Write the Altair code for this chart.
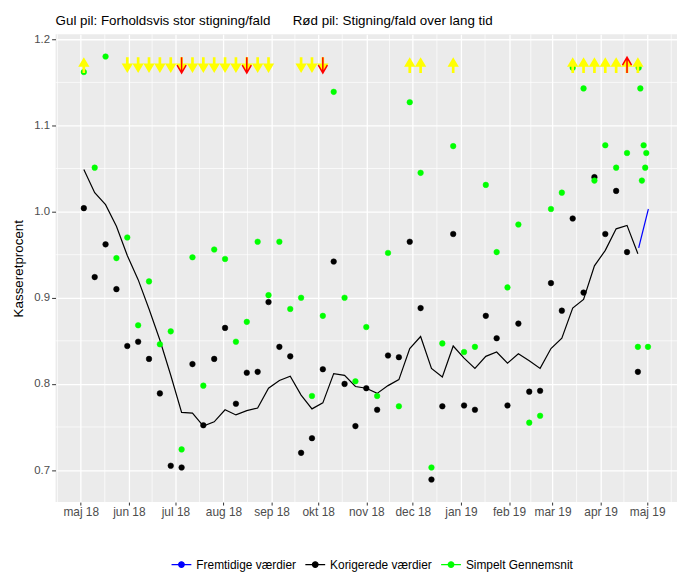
import altair as alt
import pandas as pd

# ---------------- data ----------------
uge_start = "2018-05-03"
antal_uger = 52

korrigeret = [1.004, 0.924, 0.962, 0.910, 0.844, 0.849, 0.829, 0.789, 0.705, 0.703,
              0.823, 0.752, 0.829, 0.865, 0.777, 0.813, 0.814, 0.895, 0.843, 0.832,
              0.720, 0.737, 0.817, 0.942, 0.800, 0.751, 0.795, 0.770, 0.833, 0.831,
              0.965, 0.888, 0.689, 0.774, 0.974, 0.775, 0.770, 0.879, 0.853, 0.775,
              0.870, 0.791, 0.792, 0.917, 0.885, 0.992, 0.906, 1.040, 0.974, 1.024,
              0.953, 0.814]
gennemsnit = [1.162, 1.051, 1.180, 0.946, 0.970, 0.868, 0.919, 0.846, 0.861, 0.724,
              0.947, 0.798, 0.956, 0.945, 0.849, 0.872, 0.965, 0.903, 0.965, 0.887,
              0.900, 0.786, 0.879, 1.139, 0.900, 0.803, 0.866, 0.786, 0.952, 0.774,
              1.127, 1.045, 0.703, 0.847, 1.076, 0.837, 0.843, 1.031, 0.953, 0.912,
              0.985, 0.755, 0.763, 1.003, 1.022, 1.167, 1.143, 1.036, 1.077, 1.051,
              1.068, 0.843]
linje = [1.049, 1.022, 1.008, 0.983, 0.949, 0.921, 0.887, 0.851, 0.810, 0.767,
         0.766, 0.751, 0.756, 0.770, 0.764, 0.769, 0.772, 0.795, 0.804, 0.809,
         0.787, 0.771, 0.778, 0.812, 0.810, 0.797, 0.795, 0.789, 0.798, 0.805,
         0.841, 0.855, 0.818, 0.808, 0.844, 0.830, 0.818, 0.832, 0.837, 0.824,
         0.835, 0.827, 0.818, 0.841, 0.853, 0.888, 0.898, 0.937, 0.955, 0.980,
         0.984, 0.951]

ekstra_dato = ["2019-04-25T12:00:00Z", "2019-04-26T14:00:00Z", "2019-04-27T14:00:00Z",
               "2019-04-28T17:00:00Z", "2019-04-29T17:00:00Z", "2019-04-30T10:00:00Z",
               "2019-05-01T12:00:00Z"]
ekstra_gns = [1.167, 1.143, 1.036, 1.077, 1.051, 1.068, 0.843]

frem_dato = ["2019-04-25T12:00:00Z", "2019-05-01T18:00:00Z"]
frem_vaerdi = [0.958, 1.003]

gul_ned = [4, 5, 6, 7, 8, 9, 10, 11, 12, 13, 14, 15, 16, 17, 20, 21, 22]
gul_op = [0, 30, 31, 34, 45, 46, 47, 48, 49, 50, 51]
roed_ned = [9, 15, 22]
roed_op = [50]
pil_niveau = 1.17

serier = ["Fremtidige værdier", "Korigerede værdier", "Simpelt Gennemsnit"]
farver = ["#0000FF", "#000000", "#00FF00"]

y_ticks = [0.7, 0.8, 0.9, 1.0, 1.1, 1.2]
y_minor = [0.75, 0.85, 0.95, 1.05, 1.15]
maaneder = ['jan', 'feb', 'mar', 'apr', 'maj', 'jun', 'jul', 'aug', 'sep', 'okt', 'nov', 'dec']

# ---------------- frames ----------------
datoer = pd.date_range(uge_start, periods=antal_uger, freq="7D")
dstr = [d.strftime("%Y-%m-%dT%H:%M:%SZ") for d in datoer]

punkter = pd.DataFrame({
    "dato": dstr + dstr + ekstra_dato,
    "vaerdi": korrigeret + gennemsnit + ekstra_gns,
    "serie": [serier[1]] * antal_uger + [serier[2]] * antal_uger + [serier[2]] * len(ekstra_dato),
})
linjer = pd.DataFrame({
    "dato": dstr + frem_dato,
    "vaerdi": linje + frem_vaerdi,
    "serie": [serier[1]] * antal_uger + [serier[0]] * len(frem_dato),
})

def pile(idx):
    return pd.DataFrame({"dato": [dstr[i] for i in idx], "vaerdi": [pil_niveau] * len(idx)})

month_starts = pd.date_range("2018-04-01", "2019-06-01", freq="MS")
minor_x = [(a + (b - a) / 2).strftime("%Y-%m-%dT%H:%M:%SZ")
           for a, b in zip(month_starts[:-1], month_starts[1:])]
tick_months = pd.date_range("2018-05-01", "2019-05-01", freq="MS")
x_values = [alt.DateTime(year=d.year, month=d.month, date=1, utc=True) for d in tick_months]

# ---------------- scales / axes ----------------
FONT = "Liberation Sans"
xscale = alt.Scale(type="utc", nice=False,
                   domain=[alt.DateTime(year=2018, month=4, date=14, hours=19, utc=True),
                           alt.DateTime(year=2019, month=5, date=20, hours=5, utc=True)])
yscale = alt.Scale(domain=[0.6628, 1.2058], nice=False, zero=False)
cscale = alt.Scale(domain=serier, range=farver)

label_expr = ("['" + "','".join(maaneder) + "'][utcmonth(datum.value)] + ' ' + utcFormat(datum.value, '%y')")
X_AXIS = alt.Axis(values=x_values, labelExpr=label_expr, title=None, grid=True,
                  gridColor="white", gridWidth=1.3, domain=False, tickColor="#333333",
                  tickSize=3, labelColor="#4D4D4D", labelFontSize=12, labelFont=FONT,
                  labelPadding=2)
Y_AXIS = alt.Axis(values=y_ticks, format=".1f", title="Kasseretprocent", grid=True,
                  gridColor="white", gridWidth=1.3, domain=False, tickColor="#333333",
                  tickSize=4, labelColor="#4D4D4D", labelFontSize=11.5, labelFont=FONT,
                  labelPadding=2, titleFont=FONT, titleFontSize=13.5, titleFontWeight="normal",
                  titleColor="black", titlePadding=8)

X = lambda f="dato": alt.X(f + ":T", scale=xscale, axis=X_AXIS)
Y = lambda f="vaerdi": alt.Y(f + ":Q", scale=yscale, axis=Y_AXIS)

legende = alt.Legend(
    title=None, orient="none", direction="horizontal", legendX=116, legendY=524,
    symbolType="M-1,0 L1,0 M-0.28,0 A0.28,0.28 0 1,0 0.28,0 A0.28,0.28 0 1,0 -0.28,0 Z",
    symbolSize=400, symbolStrokeWidth=1.3, labelFont=FONT, labelFontSize=12,
    labelColor="black", columnPadding=6, labelOffset=4, symbolOpacity=1)

# ---------------- layers ----------------
grid_x = alt.Chart(pd.DataFrame({"dato": minor_x})).mark_rule(
    color="white", strokeWidth=0.7).encode(x=X())
grid_y = alt.Chart(pd.DataFrame({"vaerdi": y_minor})).mark_rule(
    color="white", strokeWidth=0.7).encode(y=Y())

linje_lag = alt.Chart(linjer).mark_line(strokeWidth=1.2, opacity=1).encode(
    x=X(), y=Y(),
    stroke=alt.Stroke("serie:N", scale=cscale, legend=legende),
    detail="serie:N")

punkt_lag = alt.Chart(punkter).mark_point(filled=True, size=32, opacity=1, strokeWidth=0.5).encode(
    x=X(), y=Y(),
    fill=alt.Fill("serie:N", scale=cscale, legend=legende),
    stroke=alt.Stroke("serie:N", scale=cscale, legend=legende),
    order=alt.Order("serie:N"))

NED_GUL = "M-0.17,-1 L0.17,-1 L0.17,-0.22 L0.72,-0.22 L0,1 L-0.72,-0.22 L-0.17,-0.22 Z"
OP_GUL = "M-0.17,1 L0.17,1 L0.17,0.22 L0.72,0.22 L0,-1 L-0.72,0.22 L-0.17,0.22 Z"
NED_ROED = "M0,-1 L0,1 M-0.58,0 L0,1 L0.58,0"
OP_ROED = "M0,1 L0,-1 M-0.58,0 L0,-1 L0.58,0"

def gul(idx, shape):
    return alt.Chart(pile(idx)).mark_point(shape=shape, filled=True, fill="#FFFF00",
                                            strokeWidth=0, size=250, opacity=1).encode(x=X(), y=Y())

def roed(idx, shape):
    return alt.Chart(pile(idx)).mark_point(shape=shape, filled=False, stroke="#FF0000",
                                            strokeWidth=1.5, size=250, opacity=1).encode(x=X(), y=Y())

titel = ("Gul pil: Forholdsvis stor stigning/fald" + "\u00a0" * 6 +
         "Rød pil: Stigning/fald over lang tid")

chart = alt.layer(
    grid_x, grid_y, linje_lag, punkt_lag,
    gul(gul_ned, NED_GUL), gul(gul_op, OP_GUL),
    roed(roed_ned, NED_ROED), roed(roed_op, OP_ROED),
).properties(
    width=627, height=472,
    padding={"left": 4, "top": 3, "right": 0, "bottom": 0},
    title=alt.TitleParams(titel, anchor="start", frame="group", font=FONT, fontSize=13.5,
                          fontWeight="normal", color="black", offset=6),
).configure_view(fill="#EBEBEB", stroke=None)

chart.save("out.html", embed_options={"renderer": "svg", "actions": False})
